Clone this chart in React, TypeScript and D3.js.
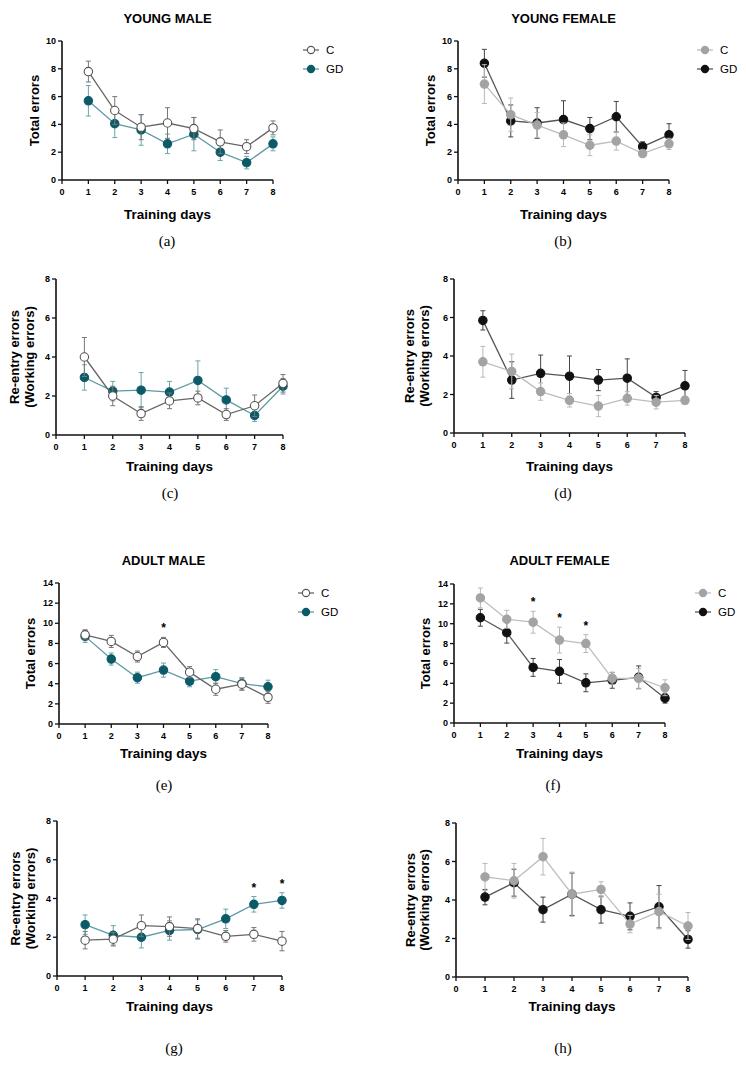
import * as d3 from "d3";

// training days 1..8
const days = [1, 2, 3, 4, 5, 6, 7, 8];
const xTicks = [0, 1, 2, 3, 4, 5, 6, 7, 8];

// (a) young male, total errors
const ymTotalC = [7.8, 5.0, 3.8, 4.1, 3.7, 2.75, 2.4, 3.75];
const ymTotalCErr = [0.75, 1.0, 0.9, 1.1, 0.8, 0.85, 0.5, 0.5];
const ymTotalGD = [5.7, 4.05, 3.6, 2.6, 3.3, 2.0, 1.25, 2.6];
const ymTotalGDErr = [1.1, 1.0, 1.1, 0.7, 1.2, 0.6, 0.45, 0.5];

// (b) young female, total errors
const yfTotalC = [6.9, 4.7, 3.95, 3.25, 2.5, 2.8, 1.9, 2.6];
const yfTotalCErr = [1.4, 1.2, 0.9, 0.85, 0.75, 0.65, 0.2, 0.4];
const yfTotalGD = [8.4, 4.25, 4.1, 4.35, 3.7, 4.55, 2.4, 3.25];
const yfTotalGDErr = [1.0, 1.15, 1.1, 1.35, 0.8, 1.1, 0.35, 0.8];

// (c) young male, re-entry errors
const ymReC = [4.0, 2.0, 1.1, 1.75, 1.9, 1.05, 1.5, 2.65];
const ymReCErr = [1.0, 0.5, 0.35, 0.4, 0.35, 0.3, 0.55, 0.45];
const ymReGD = [2.95, 2.25, 2.3, 2.2, 2.8, 1.8, 1.0, 2.5];
const ymReGDErr = [0.65, 0.5, 0.9, 0.55, 1.0, 0.6, 0.3, 0.4];

// (d) young female, re-entry errors
const yfReC = [3.7, 3.2, 2.15, 1.7, 1.4, 1.8, 1.6, 1.7];
const yfReCErr = [0.8, 0.9, 0.45, 0.35, 0.55, 0.35, 0.35, 0.2];
const yfReGD = [5.85, 2.75, 3.1, 2.95, 2.75, 2.85, 1.85, 2.45];
const yfReGDErr = [0.5, 0.95, 0.95, 1.05, 0.55, 1.0, 0.3, 0.8];

// (e) adult male, total errors
const amTotalC = [8.85, 8.2, 6.7, 8.1, 5.15, 3.45, 3.95, 2.65];
const amTotalCErr = [0.5, 0.6, 0.55, 0.5, 0.55, 0.6, 0.6, 0.6];
const amTotalGD = [8.7, 6.45, 4.6, 5.35, 4.25, 4.7, 4.0, 3.7];
const amTotalGDErr = [0.6, 0.6, 0.55, 0.7, 0.55, 0.7, 0.6, 0.65];
const amTotalStars = [4];

// (f) adult female, total errors
const afTotalC = [12.6, 10.45, 10.15, 8.35, 8.0, 4.5, 4.5, 3.55];
const afTotalCErr = [1.0, 0.9, 1.1, 1.3, 0.9, 0.6, 1.0, 0.8];
const afTotalGD = [10.6, 9.1, 5.6, 5.2, 4.05, 4.3, 4.6, 2.5];
const afTotalGDErr = [0.85, 1.05, 0.9, 1.2, 0.9, 0.8, 1.15, 0.5];
const afTotalStars = [3, 4, 5];

// (g) adult male, re-entry errors
const amReC = [1.85, 1.9, 2.6, 2.55, 2.45, 2.05, 2.15, 1.8];
const amReCErr = [0.45, 0.35, 0.55, 0.5, 0.5, 0.3, 0.35, 0.5];
const amReGD = [2.65, 2.1, 2.0, 2.35, 2.4, 2.95, 3.7, 3.9];
const amReGDErr = [0.5, 0.5, 0.55, 0.5, 0.5, 0.5, 0.4, 0.4];
const amReStars = [7, 8];

// (h) adult female, re-entry errors
const afReC = [5.2, 5.0, 6.25, 4.3, 4.55, 2.75, 3.4, 2.65];
const afReCErr = [0.7, 0.9, 0.95, 1.15, 0.4, 0.45, 0.9, 0.7];
const afReGD = [4.15, 4.9, 3.5, 4.3, 3.5, 3.15, 3.65, 1.95];
const afReGDErr = [0.4, 0.7, 0.65, 1.1, 0.7, 0.7, 1.1, 0.45];

const legendNames = ["C", "GD"];

const maleStyle = {
  C: { fill: "#ffffff", stroke: "#555555", line: "#666666", err: "#777777" },
  GD: { fill: "#0c5a68", stroke: "#0c5a68", line: "#5d9aa4", err: "#6aa3ad" },
};
const femaleStyle = {
  C: { fill: "#a3a3a3", stroke: "#a3a3a3", line: "#bdbdbd", err: "#b8b8b8" },
  GD: { fill: "#111111", stroke: "#111111", line: "#555555", err: "#444444" },
};

const sans = "'Liberation Sans', Arial, sans-serif";

type PanelProps = {
  left: number; right: number; top: number; bottom: number;
  yMax: number; title?: string; yLabel: string[]; yLabelX: number[];
  c: number[]; cErr: number[]; gd: number[]; gdErr: number[];
  style: any; stars?: number[]; letter: string; letterX: number; letterY: number;
  daysY: number; legend?: { x: number; y: number };
};

function Series({ x, y, vals, errs, st }: any) {
  const line = d3.line<number>().x((_, i) => x(days[i])).y((d) => y(d));
  return (
    <g>
      <path d={line(vals) || ""} fill="none" stroke={st.line} strokeWidth={1.3} />
      {vals.map((v: number, i: number) => {
        const cx = x(days[i]);
        const y1 = y(v + errs[i]);
        const y0 = y(v - errs[i]);
        return (
          <g key={i} stroke={st.err} strokeWidth={1}>
            <line x1={cx} x2={cx} y1={y0} y2={y1} />
            <line x1={cx - 2.5} x2={cx + 2.5} y1={y1} y2={y1} />
            <line x1={cx - 2.5} x2={cx + 2.5} y1={y0} y2={y0} />
          </g>
        );
      })}
      {vals.map((v: number, i: number) => (
        <circle key={i} cx={x(days[i])} cy={y(v)} r={4.2} fill={st.fill} stroke={st.stroke} strokeWidth={1.1} />
      ))}
    </g>
  );
}

function Panel(p: PanelProps) {
  const x = d3.scaleLinear().domain([0, 8]).range([p.left, p.right]);
  const y = d3.scaleLinear().domain([0, p.yMax]).range([p.bottom, p.top]);
  const yTicks = d3.range(0, p.yMax + 0.01, 2);
  const midY = (p.top + p.bottom) / 2;
  const midX = (p.left + p.right) / 2;
  return (
    <g>
      {p.title && (
        <text x={midX} y={18} textAnchor="middle" dominantBaseline="central" fontFamily={sans} fontWeight="bold" fontSize={13}>
          {p.title}
        </text>
      )}
      {/* axes */}
      <line x1={p.left} x2={p.left} y1={p.top} y2={p.bottom} stroke="#111" strokeWidth={1.6} />
      <line x1={p.left} x2={p.right} y1={p.bottom} y2={p.bottom} stroke="#111" strokeWidth={1.6} />
      {yTicks.map((t) => (
        <g key={t}>
          <line x1={p.left - 4} x2={p.left} y1={y(t)} y2={y(t)} stroke="#111" strokeWidth={1.3} />
          <text x={p.left - 6} y={y(t)} textAnchor="end" dominantBaseline="central" fontFamily={sans} fontWeight="bold" fontSize={9}>
            {t}
          </text>
        </g>
      ))}
      {xTicks.map((t) => (
        <g key={t}>
          <line x1={x(t)} x2={x(t)} y1={p.bottom} y2={p.bottom + 4} stroke="#111" strokeWidth={1.3} />
          <text x={x(t)} y={p.bottom + 12} textAnchor="middle" dominantBaseline="central" fontFamily={sans} fontWeight="bold" fontSize={9}>
            {t}
          </text>
        </g>
      ))}
      {p.yLabel.map((l, i) => (
        <text key={l} transform={`translate(${p.yLabelX[i]},${midY}) rotate(-90)`} textAnchor="middle" dominantBaseline="central" fontFamily={sans} fontWeight="bold" fontSize={13}>
          {l}
        </text>
      ))}
      <text x={midX} y={p.daysY} textAnchor="middle" dominantBaseline="central" fontFamily={sans} fontWeight="bold" fontSize={13.5}>
        Training days
      </text>
      <text x={p.letterX} y={p.letterY} textAnchor="middle" dominantBaseline="central" fontFamily="'Liberation Serif', serif" fontSize={15}>
        {p.letter}
      </text>
      <Series x={x} y={y} vals={p.gd} errs={p.gdErr} st={p.style.GD} />
      <Series x={x} y={y} vals={p.c} errs={p.cErr} st={p.style.C} />
      {(p.stars || []).map((d) => {
        const i = days.indexOf(d);
        const top = Math.max(p.c[i] + p.cErr[i], p.gd[i] + p.gdErr[i]);
        return (
          <text key={d} x={x(d)} y={y(top) - 5} textAnchor="middle" fontFamily={sans} fontWeight="bold" fontSize={12}>
            *
          </text>
        );
      })}
      {p.legend &&
        legendNames.map((n, i) => {
          const st = p.style[n];
          const ly = p.legend!.y + i * 19;
          return (
            <g key={n}>
              <line x1={p.legend!.x - 8} x2={p.legend!.x + 8} y1={ly} y2={ly} stroke={st.line} strokeWidth={1.3} />
              <circle cx={p.legend!.x} cy={ly} r={3.6} fill={st.fill} stroke={st.stroke} strokeWidth={1.1} />
              <text x={p.legend!.x + 15} y={ly} dominantBaseline="central" fontFamily={sans} fontSize={11.5}>
                {n}
              </text>
            </g>
          );
        })}
    </g>
  );
}

export default function App() {
  return (
    <svg width={746} height={1065} style={{ position: "absolute", left: 0, top: 0, background: "#fff" }}>
      <Panel left={62} right={273} top={41} bottom={180} yMax={10} title="YOUNG MALE"
        yLabel={["Total errors"]} yLabelX={[34]} c={ymTotalC} cErr={ymTotalCErr} gd={ymTotalGD} gdErr={ymTotalGDErr}
        style={maleStyle} letter="(a)" letterX={167} letterY={241} daysY={214} legend={{ x: 311, y: 50 }} />
      <Panel left={458} right={669} top={41} bottom={180} yMax={10} title="YOUNG FEMALE"
        yLabel={["Total errors"]} yLabelX={[430]} c={yfTotalC} cErr={yfTotalCErr} gd={yfTotalGD} gdErr={yfTotalGDErr}
        style={femaleStyle} letter="(b)" letterX={563} letterY={241} daysY={214} legend={{ x: 705, y: 50 }} />
      <Panel left={56} right={283} top={279} bottom={435} yMax={8}
        yLabel={["Re-entry errors", "(Working errors)"]} yLabelX={[14, 29]} c={ymReC} cErr={ymReCErr} gd={ymReGD} gdErr={ymReGDErr}
        style={maleStyle} letter="(c)" letterX={170} letterY={493} daysY={466} />
      <Panel left={454} right={685} top={279} bottom={433} yMax={8}
        yLabel={["Re-entry errors", "(Working errors)"]} yLabelX={[409, 424]} c={yfReC} cErr={yfReCErr} gd={yfReGD} gdErr={yfReGDErr}
        style={femaleStyle} letter="(d)" letterX={563} letterY={493} daysY={466} />
      <g transform="translate(0,542)">
        <Panel left={59} right={268} top={41} bottom={182} yMax={14} title="ADULT MALE"
          yLabel={["Total errors"]} yLabelX={[30]} c={amTotalC} cErr={amTotalCErr} gd={amTotalGD} gdErr={amTotalGDErr}
          style={maleStyle} stars={amTotalStars} letter="(e)" letterX={164} letterY={243} daysY={211} legend={{ x: 306, y: 51 }} />
        <Panel left={454} right={665} top={42} bottom={181} yMax={14} title="ADULT FEMALE"
          yLabel={["Total errors"]} yLabelX={[425]} c={afTotalC} cErr={afTotalCErr} gd={afTotalGD} gdErr={afTotalGDErr}
          style={femaleStyle} stars={afTotalStars} letter="(f)" letterX={553} letterY={243} daysY={211} legend={{ x: 703, y: 51 }} />
      </g>
      <Panel left={57} right={282} top={821} bottom={976} yMax={8}
        yLabel={["Re-entry errors", "(Working errors)"]} yLabelX={[15, 30]} c={amReC} cErr={amReCErr} gd={amReGD} gdErr={amReGDErr}
        style={maleStyle} stars={amReStars} letter="(g)" letterX={174} letterY={1048} daysY={1006} />
      <Panel left={456} right={688} top={823} bottom={977} yMax={8}
        yLabel={["Re-entry errors", "(Working errors)"]} yLabelX={[410, 424]} c={afReC} cErr={afReCErr} gd={afReGD} gdErr={afReGDErr}
        style={femaleStyle} letter="(h)" letterX={563} letterY={1048} daysY={1006} />
    </svg>
  );
}
